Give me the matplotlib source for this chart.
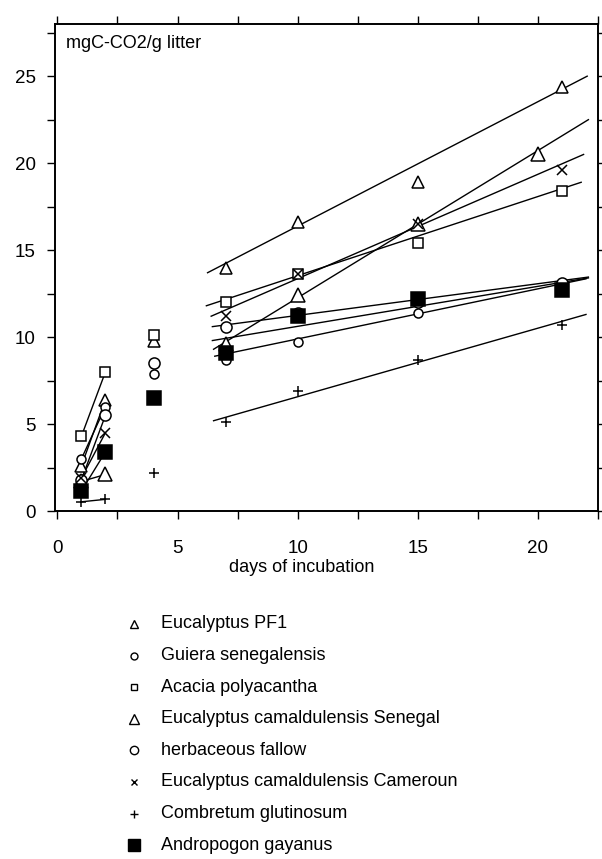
import matplotlib
matplotlib.use('Agg')
import matplotlib.pyplot as plt
from matplotlib.lines import Line2D

plt.rcParams['font.family'] = ['Liberation Sans', 'DejaVu Sans']

# days of incubation and measured values (mgC-CO2/g litter)
days = [1, 2, 4, 7, 10, 15, 21]
days_sen = [1, 2, 7, 10, 15, 20]
days_cam = [1, 2, 7, 10, 15, 21]

pf1 = [2.6, 6.4, 9.8, 14.0, 16.6, 18.9, 24.4]
guiera = [3.0, 6.0, 7.85, 8.7, 9.7, 11.4, 13.1]
acacia = [4.3, 8.0, 10.1, 12.0, 13.6, 15.4, 18.4]
senegal = [1.7, 2.1, 9.6, 12.4, 16.5, 20.5]
herb = [1.8, 5.5, 8.5, 10.6, 11.4, 12.0, 13.1]
cameroun = [1.9, 4.5, 11.2, 13.6, 16.5, 19.6]
combretum = [0.53, 0.67, 2.2, 5.1, 6.9, 8.7, 10.7]
andropogon = [1.15, 3.4, 6.5, 9.1, 11.2, 12.2, 12.7]

# regression lines (start/end)
fit_x = {'pf1': [6.25, 22.05], 'guiera': [6.55, 22.0], 'acacia': [6.2, 21.8],
         'senegal': [6.5, 22.1], 'herb': [6.45, 22.1], 'cameroun': [6.4, 21.9],
         'combretum': [6.5, 22.0], 'andropogon': [6.45, 22.1]}
fit_y = {'pf1': [13.7, 25.0], 'guiera': [8.9, 13.35], 'acacia': [11.8, 18.9],
         'senegal': [9.3, 22.5], 'herb': [10.6, 13.45], 'cameroun': [11.2, 20.5],
         'combretum': [5.19, 11.3], 'andropogon': [9.8, 13.4]}

labels = ['Eucalyptus PF1', 'Guiera senegalensis', 'Acacia polyacantha',
          'Eucalyptus camaldulensis Senegal', 'herbaceous fallow',
          'Eucalyptus camaldulensis Cameroun', 'Combretum glutinosum',
          'Andropogon gayanus']

series = [
    ('pf1', days, pf1, dict(marker='^', ms=9, mfc='white'), dict(ms=6)),
    ('guiera', days, guiera, dict(marker='o', ms=6.5, mfc='white'), dict(ms=5)),
    ('acacia', days, acacia, dict(marker='s', ms=7.5, mfc='white'), dict(ms=5)),
    ('senegal', days_sen, senegal, dict(marker='^', ms=9.5, mfc='white'), dict(ms=6.5)),
    ('herb', days, herb, dict(marker='o', ms=8, mfc='white'), dict(ms=6)),
    ('cameroun', days_cam, cameroun, dict(marker='x', ms=6.5), dict(ms=5)),
    ('combretum', days, combretum, dict(marker='+', ms=7), dict(ms=6)),
    ('andropogon', days, andropogon, dict(marker='s', ms=9.5, mfc='black'), dict(ms=8.5)),
]

fig = plt.figure(figsize=(6.02, 8.59), dpi=100)
ax = fig.add_axes([55/602, 1-511/859, 543/602, 487/859])

for key, xs, ys, style, lstyle in series:
    # first two days joined by a line
    ax.plot(xs[:2], ys[:2], color='k', lw=1.0, zorder=2)
    ax.plot(fit_x[key], fit_y[key], color='k', lw=1.0, zorder=2)
    z = 4 if style.get('mfc') == 'black' else 3
    ax.plot(xs, ys, ls='none', color='k', mec='k', mew=1.1, zorder=z, **style)

ax.set_xlim(-0.1, 22.45)
ax.set_ylim(0, 28)
ax.set_xticks([0, 5, 10, 15, 20])
ax.set_xticks([2.5, 7.5, 12.5, 17.5, 22.5], minor=True)
ax.set_yticks([0, 5, 10, 15, 20, 25])
ax.set_yticks([2.5, 7.5, 12.5, 17.5, 22.5, 27.5], minor=True)
ax.tick_params(which='both', direction='out', length=6, width=1.0,
               top=True, right=True, labelsize=13.5)
ax.tick_params(axis='x', pad=15)
ax.tick_params(axis='y', pad=8)
for s in ax.spines.values():
    s.set_linewidth(1.4)

ax.set_xlabel('days of incubation', fontsize=13, va='center')
ax.xaxis.set_label_coords(0.455, -0.115)
ax.text(0.02, 0.96, 'mgC-CO2/g litter', transform=ax.transAxes,
        fontsize=13, va='center', ha='left')

# legend below the plot
for i, (key, xs, ys, style, lstyle) in enumerate(series):
    y = 1 - (624 + i * 31.6) / 859
    st = dict(style)
    st.update(lstyle)
    fig.add_artist(Line2D([134/602], [y], transform=fig.transFigure, ls='none',
                          color='k', mec='k', mew=1.0, **st))
    fig.text(161/602, y, labels[i], fontsize=13, va='center', ha='left')

fig.savefig('out.png', dpi=100)
